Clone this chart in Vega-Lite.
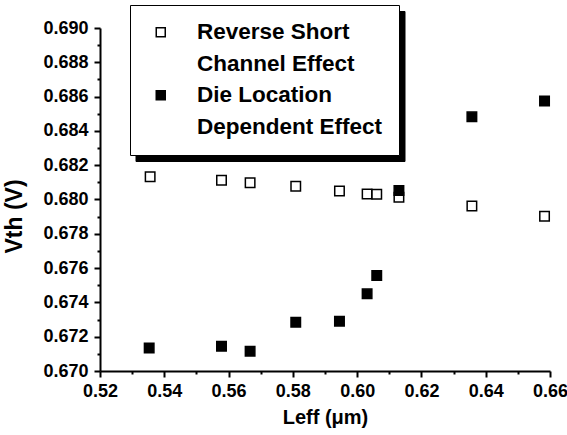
{
  "$schema": "https://vega.github.io/schema/vega-lite/v6.json",
  "width": 450,
  "height": 343,
  "autosize": "none",
  "padding": {"left": 100, "top": 28, "right": 17, "bottom": 64},
  "background": "white",
  "config": {
    "font": "Liberation Sans",
    "view": {"stroke": null},
    "axis": {
      "domainColor": "black",
      "domainWidth": 2,
      "tickColor": "black",
      "tickWidth": 2,
      "labelColor": "black",
      "labelFont": "Liberation Sans",
      "labelFontWeight": "bold",
      "labelFontSize": 18,
      "titleColor": "black",
      "titleFont": "Liberation Sans",
      "titleFontWeight": "bold",
      "titleFontSize": 20,
      "grid": false
    },
    "legend": {
      "title": null,
      "orient": "none",
      "legendX": 30,
      "legendY": -23,
      "padding": 16,
      "fillColor": "white",
      "strokeColor": "black",
      "symbolType": "square",
      "symbolSize": 81,
      "symbolStrokeWidth": 1.5,
      "symbolOffset": 3.5,
      "labelOffset": 25,
      "labelFont": "Liberation Sans",
      "labelFontSize": 22.5,
      "labelFontWeight": "bold",
      "labelColor": "black",
      "labelLimit": 0,
      "labelBaseline": "middle",
      "rowPadding": 8.5
    }
  },
  "data": {
    "values": [
      {"series": "Reverse Short Channel Effect", "leff": 0.5356, "vth": 0.68133},
      {"series": "Reverse Short Channel Effect", "leff": 0.5578, "vth": 0.68112},
      {"series": "Reverse Short Channel Effect", "leff": 0.5667, "vth": 0.68098},
      {"series": "Reverse Short Channel Effect", "leff": 0.5809, "vth": 0.68077},
      {"series": "Reverse Short Channel Effect", "leff": 0.5945, "vth": 0.68050},
      {"series": "Reverse Short Channel Effect", "leff": 0.6031, "vth": 0.68032},
      {"series": "Reverse Short Channel Effect", "leff": 0.6061, "vth": 0.68030},
      {"series": "Reverse Short Channel Effect", "leff": 0.6130, "vth": 0.68013},
      {"series": "Reverse Short Channel Effect", "leff": 0.6357, "vth": 0.67962},
      {"series": "Reverse Short Channel Effect", "leff": 0.6583, "vth": 0.67902},
      {"series": "Die Location Dependent Effect", "leff": 0.5353, "vth": 0.67134},
      {"series": "Die Location Dependent Effect", "leff": 0.5578, "vth": 0.67144},
      {"series": "Die Location Dependent Effect", "leff": 0.5667, "vth": 0.67115},
      {"series": "Die Location Dependent Effect", "leff": 0.5809, "vth": 0.67284},
      {"series": "Die Location Dependent Effect", "leff": 0.5945, "vth": 0.67290},
      {"series": "Die Location Dependent Effect", "leff": 0.6031, "vth": 0.67450},
      {"series": "Die Location Dependent Effect", "leff": 0.6061, "vth": 0.67557},
      {"series": "Die Location Dependent Effect", "leff": 0.6130, "vth": 0.68052},
      {"series": "Die Location Dependent Effect", "leff": 0.6357, "vth": 0.68482},
      {"series": "Die Location Dependent Effect", "leff": 0.6583, "vth": 0.68575}
    ]
  },
  "mark": {"type": "point", "filled": true, "size": 90, "strokeWidth": 1.5, "opacity": 1},
  "encoding": {
    "x": {
      "field": "leff",
      "type": "quantitative",
      "scale": {"domain": [0.52, 0.66], "nice": false, "zero": false},
      "axis": {
        "title": "Leff (μm)",
        "values": [0.52, 0.53, 0.54, 0.55, 0.56, 0.57, 0.58, 0.59, 0.60, 0.61, 0.62, 0.63, 0.64, 0.65, 0.66],
        "labelExpr": "round(datum.value * 100) % 2 == 0 ? format(datum.value, '.2f') : ''",
        "tickSize": {"condition": {"test": "round(datum.value * 100) % 2 == 0", "value": 6}, "value": 3},
        "labelPadding": 5,
        "titlePadding": 7,
        "labelFlush": false,
        "labelOverlap": false
      }
    },
    "y": {
      "field": "vth",
      "type": "quantitative",
      "scale": {"domain": [0.670, 0.690], "nice": false, "zero": false},
      "axis": {
        "title": "Vth (V)",
        "titleFontSize": 23,
        "values": [0.670, 0.671, 0.672, 0.673, 0.674, 0.675, 0.676, 0.677, 0.678, 0.679, 0.680, 0.681, 0.682, 0.683, 0.684, 0.685, 0.686, 0.687, 0.688, 0.689, 0.690],
        "labelExpr": "round(datum.value * 1000) % 2 == 0 ? format(datum.value, '.3f') : ''",
        "tickSize": {"condition": {"test": "round(datum.value * 1000) % 2 == 0", "value": 6}, "value": 3},
        "labelPadding": 6,
        "titleX": -74,
        "titleY": 188,
        "labelFlush": false,
        "labelOverlap": false
      }
    },
    "shape": {
      "field": "series",
      "type": "nominal",
      "scale": {"domain": ["Die Location Dependent Effect (2)", "Die Location Dependent Effect", "Reverse Short Channel Effect (2)", "Reverse Short Channel Effect"], "range": ["square", "square", "square", "square"]},
      "legend": {
        "legendX": 35.5,
        "legendY": -17,
        "zindex": 0,
        "fillColor": "black",
        "symbolFillColor": "black",
        "symbolStrokeColor": "black",
        "labelColor": "black",
        "labelOpacity": 0,
        "labelExpr": "datum.value == 'Reverse Short Channel Effect' ? 'Reverse Short' : datum.value == 'Reverse Short Channel Effect (2)' ? 'Channel Effect' : datum.value == 'Die Location Dependent Effect' ? 'Die Location' : 'Dependent Effect'",
        "encode": {
          "legend": {"update": {"strokeWidth": {"value": 1.5}}}
        }
      }
    },
    "fill": {
      "field": "series",
      "type": "nominal",
      "scale": {"domain": ["Reverse Short Channel Effect", "Reverse Short Channel Effect (2)", "Die Location Dependent Effect", "Die Location Dependent Effect (2)"], "range": ["white", "transparent", "black", "transparent"]},
      "legend": {
        "zindex": 1,
        "labelExpr": "datum.value == 'Reverse Short Channel Effect' ? 'Reverse Short' : datum.value == 'Reverse Short Channel Effect (2)' ? 'Channel Effect' : datum.value == 'Die Location Dependent Effect' ? 'Die Location' : 'Dependent Effect'",
        "encode": {
          "legend": {"update": {"strokeWidth": {"value": 1.5}}}
        }
      }
    },
    "stroke": {
      "field": "series",
      "type": "nominal",
      "scale": {"domain": ["Reverse Short Channel Effect", "Reverse Short Channel Effect (2)", "Die Location Dependent Effect", "Die Location Dependent Effect (2)"], "range": ["black", "transparent", "black", "transparent"]},
      "legend": {
        "zindex": 1,
        "labelExpr": "datum.value == 'Reverse Short Channel Effect' ? 'Reverse Short' : datum.value == 'Reverse Short Channel Effect (2)' ? 'Channel Effect' : datum.value == 'Die Location Dependent Effect' ? 'Die Location' : 'Dependent Effect'",
        "encode": {
          "legend": {"update": {"strokeWidth": {"value": 1.5}}}
        }
      }
    }
  }
}
